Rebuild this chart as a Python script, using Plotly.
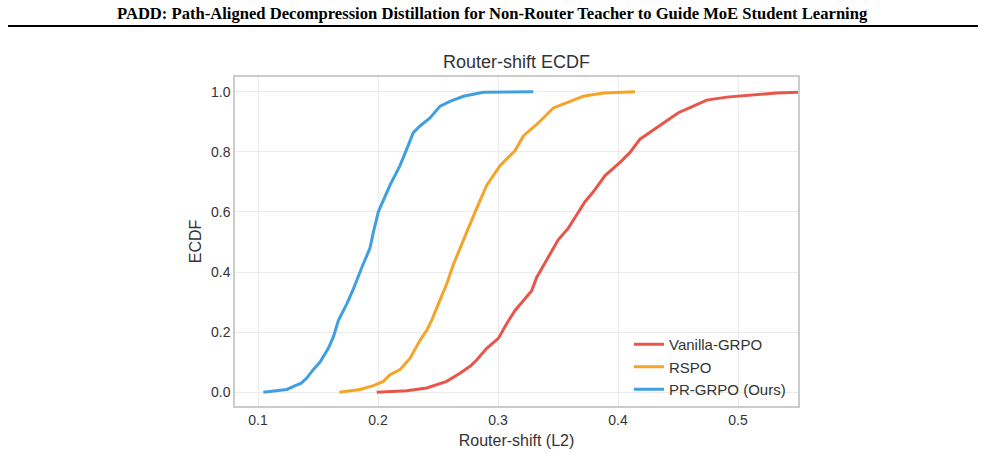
import plotly.graph_objects as go

# ---- data ----
pr_grpo_x = [0.1044, 0.124, 0.131, 0.136, 0.1406, 0.146, 0.1517, 0.1586, 0.1628, 0.167,
             0.174, 0.1794, 0.1864, 0.1933, 0.1960, 0.2003, 0.21, 0.2183, 0.2239, 0.2294,
             0.235, 0.2433, 0.2517, 0.26, 0.2711, 0.2785, 0.2878, 0.3294]
pr_grpo_y = [0.0, 0.009, 0.022, 0.03, 0.047, 0.075, 0.10, 0.146, 0.184, 0.239,
             0.294, 0.343, 0.414, 0.48, 0.53, 0.601, 0.689, 0.754, 0.809, 0.864,
             0.886, 0.913, 0.952, 0.968, 0.985, 0.99, 0.998, 1.0]

rspo_x = [0.1678, 0.185, 0.1961, 0.2044, 0.21, 0.2183, 0.2267, 0.235, 0.2406, 0.2447,
          0.2503, 0.2572, 0.2628, 0.2683, 0.2753, 0.2822, 0.2906, 0.3017, 0.3142, 0.3211,
          0.3322, 0.3461, 0.36, 0.3711, 0.3878, 0.4142]
rspo_y = [0.0, 0.009, 0.022, 0.036, 0.058, 0.075, 0.113, 0.173, 0.206, 0.239,
          0.294, 0.36, 0.425, 0.48, 0.546, 0.612, 0.689, 0.754, 0.804, 0.853,
          0.891, 0.946, 0.968, 0.985, 0.996, 1.0]

vanilla_x = [0.1989, 0.2239, 0.2406, 0.2572, 0.2683, 0.2767, 0.2822, 0.2906, 0.3003, 0.3072,
             0.3142, 0.3225, 0.3281, 0.3322, 0.3378, 0.3433, 0.3503, 0.3586, 0.3656, 0.3725,
             0.3794, 0.3892, 0.4017, 0.41, 0.4183, 0.4281, 0.4392, 0.4503, 0.4628, 0.4739,
             0.4906, 0.5128, 0.5322, 0.56]
vanilla_y = [0.0, 0.005, 0.014, 0.036, 0.063, 0.086, 0.107, 0.146, 0.179, 0.228,
             0.272, 0.31, 0.338, 0.382, 0.42, 0.458, 0.508, 0.546, 0.59, 0.634,
             0.667, 0.721, 0.765, 0.798, 0.842, 0.869, 0.902, 0.93, 0.952, 0.972,
             0.982, 0.99, 0.996, 1.0]

x_ticks = [0.1, 0.2, 0.3, 0.4, 0.5]
y_ticks = [0.0, 0.2, 0.4, 0.6, 0.8, 1.0]

series = [
    ("Vanilla-GRPO", vanilla_x, vanilla_y, "#e8554a"),
    ("RSPO", rspo_x, rspo_y, "#f5a427"),
    ("PR-GRPO (Ours)", pr_grpo_x, pr_grpo_y, "#3f9fe0"),
]

fig = go.Figure()
for name, xs, ys, col in series:
    fig.add_trace(go.Scatter(x=xs, y=ys, mode="lines", name=name,
                             line=dict(color=col, width=3)))

W, H = 985, 459
L, R, T, B = 235, 798, 77, 410
pw, ph = R - L, B - T

def px_x(p):
    return (p - L) / pw

def px_y(p):
    return (B - p) / ph

sans = "Liberation Sans, Arial, sans-serif"

fig.update_layout(
    width=W, height=H,
    margin=dict(l=L, r=W - R, t=T, b=H - B),
    paper_bgcolor="white", plot_bgcolor="white",
    font=dict(family=sans, size=14, color="#333333"),
    showlegend=True,
    legend=dict(x=px_x(629), y=px_y(410), xanchor="left", yanchor="bottom",
                bgcolor="rgba(255,255,255,0)", font=dict(size=15, color="#333333"),
                tracegroupgap=0),
    xaxis=dict(range=[0.0808, 0.55], tickvals=x_ticks, tickformat=".1f",
               showgrid=True, gridcolor="#ebebeb", gridwidth=1,
               showline=True, linecolor="#cccccc", linewidth=1.5, mirror=True,
               zeroline=False, ticks="", tickfont=dict(size=14, color="#333333"),
               title=dict(text="Router-shift (L2)", font=dict(size=16, color="#333333"), standoff=8)),
    yaxis=dict(range=[-0.046, 1.049], tickvals=y_ticks, tickformat=".1f",
               showgrid=True, gridcolor="#ebebeb", gridwidth=1,
               showline=True, linecolor="#cccccc", linewidth=1.5, mirror=True,
               zeroline=False, ticks="", tickfont=dict(size=14, color="#333333"),
               title=dict(text="ECDF", font=dict(size=16, color="#333333"), standoff=5)),
    annotations=[
        dict(text="<b>PADD: Path-Aligned Decompression Distillation for Non-Router Teacher to Guide MoE Student Learning</b>",
             xref="paper", yref="paper", x=px_x(492), y=px_y(13), xanchor="center", yanchor="middle",
             showarrow=False, font=dict(family="Liberation Serif, Times New Roman, serif", size=16.6, color="black")),
        dict(text="Router-shift ECDF", xref="paper", yref="paper", x=0.5, y=px_y(62),
             xanchor="center", yanchor="middle", showarrow=False,
             font=dict(family=sans, size=18, color="#333333")),
    ],
    shapes=[
        dict(type="line", xref="paper", yref="paper", x0=px_x(8), x1=px_x(978),
             y0=px_y(25.5), y1=px_y(25.5), line=dict(color="black", width=2)),
    ],
)

fig.write_html("out.html")
